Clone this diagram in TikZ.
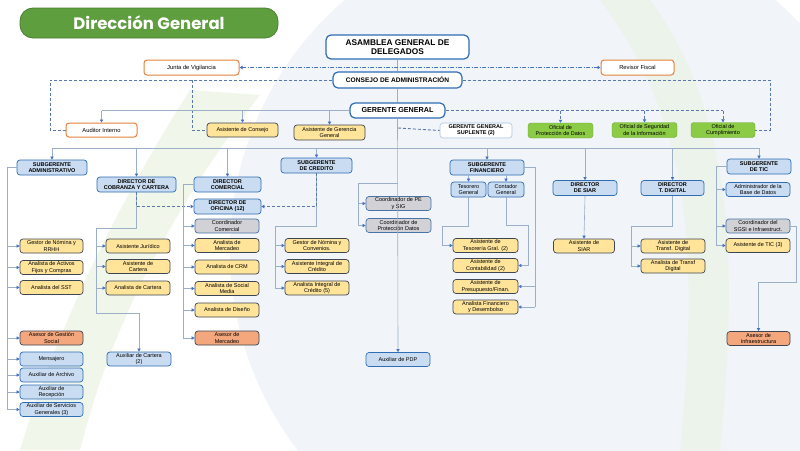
\documentclass[tikz,border=0pt]{standalone}
\usepackage{fontspec}
\setmainfont{Liberation Sans}
\newfontfamily\titlefont{Poppins}
\usetikzlibrary{arrows.meta}
\definecolor{blueline}{HTML}{2F6DB5}
\definecolor{lbluefill}{HTML}{C9DCF1}
\definecolor{yelfill}{HTML}{FFE49A}
\definecolor{darkline}{HTML}{3E4654}
\definecolor{grayfill}{HTML}{D2D2D6}
\definecolor{salmon}{HTML}{F4A77C}
\definecolor{greenfill}{HTML}{8CCB45}
\definecolor{orangeline}{HTML}{E6823A}
\definecolor{conn}{HTML}{9BB0C8}
\definecolor{dashblue}{HTML}{5A78B0}
\definecolor{arrowblue}{HTML}{4472C4}
\definecolor{titlegreen}{HTML}{5E9E3E}
\definecolor{bgblue}{HTML}{F1F4F8}
\definecolor{bggreen}{HTML}{EAF3E2}
\tikzset{
  base/.style={rounded corners=3pt, align=center, inner sep=0.5pt, font=\fontsize{5.5}{6.2}\selectfont, line width=0.7pt},
  topbox/.style={base, draw=blueline, fill=white, line width=1.2pt, rounded corners=5pt},
  orbox/.style={base, draw=orangeline, fill=white, line width=1pt, font=\fontsize{5.8}{6.6}\selectfont},
  yel/.style={base, draw=darkline, fill=yelfill},
  lblue/.style={base, draw=blueline, fill=lbluefill},
  lbluebold/.style={lblue, font=\fontsize{5.5}{6.2}\selectfont\bfseries},
  gray/.style={base, draw=blueline!70!gray, fill=grayfill},
  sal/.style={base, draw=darkline, fill=salmon},
  grn/.style={base, draw=greenfill!80!black, fill=greenfill, line width=0.4pt},
  supl/.style={base, draw=blueline!40, fill=white, line width=0.6pt, font=\fontsize{5.5}{6.2}\selectfont\bfseries},
  cl/.style={draw=conn, line width=0.6pt},
  ca/.style={cl, -{Triangle[width=3.2pt,length=3pt,color=arrowblue]}},
  dl/.style={draw=dashblue, line width=0.9pt, dash pattern=on 3pt off 2pt},
  da/.style={dl, -{Triangle[width=3.4pt,length=3pt,color=arrowblue]}},
  ch/.style={minimum width=63pt, minimum height=14pt},
}
\begin{document}
\begin{tikzpicture}[x=1pt,y=-1pt]
\useasboundingbox (0,0) rectangle (800,450);
% background
\fill[white] (0,0) rectangle (800,450);
\begin{scope}
\clip (0,0) rectangle (800,450);
\fill[bgblue] (560,250) circle (330);
\fill[bggreen, opacity=0.7] (190,90) .. controls (120,200) and (60,320) .. (20,450) -- (80,450) .. controls (110,330) and (170,210) .. (260,95) -- cycle;
\fill[bggreen, opacity=0.6] (600,0) .. controls (690,120) and (700,250) .. (680,450) -- (720,450) .. controls (740,250) and (730,110) .. (650,0) -- cycle;
\end{scope}
% title
\node[rounded corners=13pt, draw=titlegreen!80!black, fill=titlegreen, line width=0.8pt, minimum width=258pt, minimum height=30pt, text=white, font=\titlefont\bfseries\fontsize{16.5}{20}\selectfont] (title) at (149,23) {Dirección General};

% top level
\node[topbox, minimum width=143pt, minimum height=24pt, font=\fontsize{8.3}{9.4}\selectfont\bfseries] (asam) at (397.5,47) {ASAMBLEA GENERAL DE\\DELEGADOS};
\node[orbox, minimum width=95pt, minimum height=15pt] (junta) at (191.5,67.5) {Junta de Vigilancia};
\node[orbox, minimum width=73pt, minimum height=15pt] (revisor) at (637.5,67.5) {Revisor Fiscal};
\node[topbox, minimum width=129pt, minimum height=16pt, font=\fontsize{6.6}{7.5}\selectfont\bfseries] (consejo) at (397.5,80) {CONSEJO DE ADMINISTRACIÓN};
\node[topbox, minimum width=95pt, minimum height=15pt, font=\fontsize{7.2}{8}\selectfont\bfseries] (gerente) at (397.5,110.5) {GERENTE GENERAL};

\node[orbox, minimum width=71pt, minimum height=14pt] (auditor) at (101.5,130) {Auditor Interno};
\node[yel, minimum width=71pt, minimum height=14pt] (asiscons) at (242.5,130) {Asistente de Consejo};
\node[yel, minimum width=71pt, minimum height=15pt] (asisger) at (329.5,132.5) {Asistente de Gerencia\\General};
\node[supl, minimum width=72pt, minimum height=15pt] (suplente) at (476,130.5) {GERENTE GENERAL\\SUPLENTE (2)};
\node[grn, minimum width=65pt, minimum height=15pt] (ofprot) at (560.5,130.5) {Oficial de\\Protección de Datos};
\node[grn, minimum width=65pt, minimum height=15pt] (ofseg) at (644.5,130) {Oficial de Seguridad\\de la Información};
\node[grn, minimum width=64pt, minimum height=15pt] (ofcump) at (723,130) {Oficial de\\Cumplimiento};

% second level
\node[lbluebold, minimum width=70pt, minimum height=15pt] (subadm) at (52,167.5) {SUBGERENTE\\ADMINISTRATIVO};
\node[lbluebold, minimum width=79pt, minimum height=15pt] (dircob) at (136.5,184.5) {DIRECTOR DE\\COBRANZA Y CARTERA};
\node[lbluebold, minimum width=67pt, minimum height=15pt] (dircom) at (227.5,184.5) {DIRECTOR\\COMERCIAL};
\node[lbluebold, minimum width=67pt, minimum height=15pt] (diroff) at (227.5,206.5) {DIRECTOR DE\\OFICINA (12)};
\node[lbluebold, minimum width=71pt, minimum height=15pt] (subcred) at (316.5,165.5) {SUBGERENTE\\DE CREDITO};
\node[lbluebold, minimum width=74pt, minimum height=15pt] (subfin) at (487,167.5) {SUBGERENTE\\FINANCIERO};
\node[lblue, minimum width=35pt, minimum height=15pt] (tes) at (468.5,189.5) {Tesorero\\General};
\node[lblue, minimum width=36pt, minimum height=15pt] (cont) at (506,189.5) {Contador\\General};
\node[lbluebold, minimum width=64pt, minimum height=15pt] (dirsiar) at (585,188) {DIRECTOR\\DE SIAR};
\node[lbluebold, minimum width=63pt, minimum height=15pt] (dirtd) at (672.5,188) {DIRECTOR\\T. DIGITAL};
\node[lbluebold, minimum width=64pt, minimum height=15pt] (subtic) at (759,166.5) {SUBGERENTE\\DE TIC};

% administrativo children
\node[yel, ch] (gnom) at (51.5,246) {Gestor de Nómina y\\RRHH};
\node[yel, ch] (activos) at (51.5,267.5) {Analista de Activos\\Fijos y Compras};
\node[yel, ch] (sst) at (51.5,287.5) {Analista del SST};
\node[sal, ch] (gsocial) at (51.5,338) {Asesor de Gestión\\Social};
\node[lblue, ch] (mens) at (51.5,359) {Mensajero};
\node[lblue, ch] (archivo) at (51.5,375) {Auxiliar de Archivo};
\node[lblue, ch] (recep) at (51.5,392) {Auxiliar de\\Recepción};
\node[lblue, ch] (servgen) at (51.5,409.5) {Auxiliar de Servicios\\Generales (3)};

% cobranza children
\node[yel, ch, minimum width=64pt] (jur) at (138,246) {Asistente Jurídico};
\node[yel, ch, minimum width=64pt] (ascart) at (138,266.5) {Asistente de\\Cartera};
\node[yel, ch, minimum width=64pt] (ancart) at (138,288) {Analista de Cartera};
\node[lblue, ch, minimum width=64pt] (auxcart) at (139,359) {Auxiliar de Cartera\\(2)};

% comercial children
\node[gray, ch, minimum width=64pt] (coordcom) at (227,226) {Coordinador\\Comercial};
\node[yel, ch, minimum width=64pt] (anmerc) at (227,245.5) {Analista de\\Mercadeo};
\node[yel, ch, minimum width=64pt] (crm) at (227,267) {Analista de CRM};
\node[yel, ch, minimum width=64pt] (social) at (227,288.5) {Analista de Social\\Media};
\node[yel, ch, minimum width=64pt] (diseno) at (227,310) {Analista de Diseño};
\node[sal, ch, minimum width=64pt] (asmerc) at (227,338) {Asesor de\\Mercadeo};

% credito children
\node[yel, ch, minimum width=64pt] (gnomconv) at (317,245.5) {Gestor de Nómina y\\Convenios.};
\node[yel, ch, minimum width=64pt] (asintcred) at (317,266.5) {Asistente Integral de\\Crédito};
\node[yel, ch, minimum width=64pt] (anintcred) at (317,288) {Analista Integral de\\Crédito (5)};

% gerencia direct
\node[gray, ch, minimum width=65pt] (coordpe) at (398.5,203.5) {Coordinador de PE\\y SIG};
\node[gray, ch, minimum width=65pt] (coordprot) at (398.5,225.5) {Coordinador de\\Protección Datos};
\node[lblue, ch, minimum width=64pt] (auxpdp) at (398,359.5) {Auxiliar de PDP};

% financiero children
\node[yel, ch, minimum width=65pt] (asteso) at (485.5,245.5) {Asistente de\\Tesorería Gral. (2)};
\node[yel, ch, minimum width=65pt] (ascont) at (485.5,265.5) {Asistente de\\Contabilidad (2)};
\node[yel, ch, minimum width=65pt] (aspres) at (485.5,286.5) {Asistente de\\Presupuesto/Finan.};
\node[yel, ch, minimum width=65pt] (anfin) at (485.5,307) {Analista Financiero\\y Desembolso};

% siar / digital
\node[yel, ch, minimum width=61pt] (assiar) at (584,246) {Asistente de\\SIAR};
\node[yel, ch, minimum width=64pt] (astd) at (673,246) {Asistente de\\Transf. Digital};
\node[yel, ch, minimum width=64pt] (antd) at (673,266) {Analista de Transf\\Digital};

% tic
\node[lblue, ch, minimum width=64pt] (admbd) at (758,189.5) {Administrador de la\\Base de Datos};
\node[gray, ch, minimum width=64pt] (coordsgsi) at (758,226) {Coordinador del\\SGSI e Infraestruct.};
\node[yel, ch, minimum width=64pt] (astic) at (758,245.5) {Asistente de TIC (3)};
\node[sal, ch, minimum width=63pt] (asinfra) at (758.5,338.5) {Asesor de\\Infraestructura};

% ===== connectors =====
\coordinate (hub) at (398,148);
\coordinate (gl) at (101.5,110.5);
\coordinate (gr) at (723,110.5);
\draw[cl] (asam.south) -- (consejo.north);
\draw[cl] (consejo.south) -- (gerente.north);
\draw[draw=arrowblue, line width=0.7pt, dash pattern=on 4pt off 1.5pt on 1pt off 1.5pt, {Triangle[width=3.4pt,length=3pt]}-{Triangle[width=3.4pt,length=3pt]}] (junta.east) -- (revisor.west);

% consejo dashed
\draw[dl] (consejo.west) -- (50,80) -- (50,130) -- (auditor.west);
\draw[dl] (192,80) -- (192,130) -- (asiscons.west);
\draw[dl] (consejo.east) -- (770,80) -- (770,130) -- (ofcump.east);

% gerente dashed
\draw[dl] (gerente.east) -- (gr);
\draw[da] (gr) -- (ofcump.north);
\draw[da] (ofprot.north |- gr) -- (ofprot.north);
\draw[da] (ofseg.north |- gr) -- (ofseg.north);
\draw[dl] (398,128) -- (suplente.west);

% gerente solid left
\draw[cl] (gerente.west) -- (gl);
\draw[ca] (gl) -- (auditor.north);
\draw[ca] (asiscons.north |- gl) -- (asiscons.north);
\draw[ca] (asisger.north |- gl) -- (asisger.north);

% gerente vertical
\draw[ca] (gerente.south) -- (auxpdp.north);
\draw[cl] (subadm.north |- hub) -- (subtic.north |- hub);
\foreach \n in {subadm,dircob,dircom,subcred,subfin,dirsiar,dirtd,subtic}
  \draw[ca] (\n.north |- hub) -- (\n.north);

% coordinadores
\draw[cl] (398,183) -- (358,183) -- (358,225.5);
\draw[ca] (358,203.5) -- (coordpe.west);
\draw[ca] (358,225.5) -- (coordprot.west);

% administrativo
\draw[cl] (subadm.west) -- (7,167.5) -- (7,409.5);
\foreach \n in {gnom,activos,sst,gsocial,mens,archivo,recep,servgen}
  \draw[ca] (7,0 |- \n.west) -- (\n.west);

% cobranza
\draw[cl] (dircob.south) -- (136.5,228) -- (96,228) -- (96,313) -- (139,313);
\draw[ca] (139,313) -- (auxcart.north);
\foreach \n in {jur,ascart,ancart}
  \draw[ca] (96,0 |- \n.west) -- (\n.west);
\draw[da] (dircob.south) -- (136.5,206.5) -- (diroff.west);

% comercial
\draw[cl] (dircom.west) -- (183,184.5) -- (183,338);
\foreach \n in {coordcom,anmerc,crm,social,diseno,asmerc}
  \draw[ca] (183,0 |- \n.west) -- (\n.west);

% credito
\draw[cl] (subcred.south) -- (316.5,226) -- (275,226) -- (275,288);
\foreach \n in {gnomconv,asintcred,anintcred}
  \draw[ca] (275,0 |- \n.west) -- (\n.west);
\draw[da] (subcred.south) -- (316.5,206.5) -- (diroff.east);

% financiero
\draw[ca] (tes.north |- subfin.south) -- (tes.north);
\draw[ca] (cont.north |- subfin.south) -- (cont.north);
\draw[cl] (tes.south) -- (468.5,226) -- (442,226) -- (442,245.5);
\draw[ca] (442,245.5) -- (asteso.west);
\draw[cl] (cont.south) -- (506,225) -- (528,225) -- (528,265.5);
\draw[ca] (528,265.5) -- (ascont.east);
\draw[cl] (subfin.east) -- (535,167.5) -- (535,307);
\draw[ca] (535,286.5) -- (aspres.east);
\draw[ca] (535,307) -- (anfin.east);

% siar / digital
\draw[ca] (dirsiar.south) -- (assiar.north);
\draw[cl] (dirtd.south) -- (672.5,226) -- (631,226) -- (631,266);
\draw[ca] (631,246) -- (astd.west);
\draw[ca] (631,266) -- (antd.west);

% tic
\draw[cl] (subtic.west) -- (716,166.5) -- (716,245.5);
\foreach \n in {admbd,coordsgsi,astic}
  \draw[ca] (716,0 |- \n.west) -- (\n.west);
\draw[cl] (coordsgsi.east) -- (796,226) -- (796,282) -- (758.5,282);
\draw[ca] (758.5,282) -- (asinfra.north);
\end{tikzpicture}
\end{document}
